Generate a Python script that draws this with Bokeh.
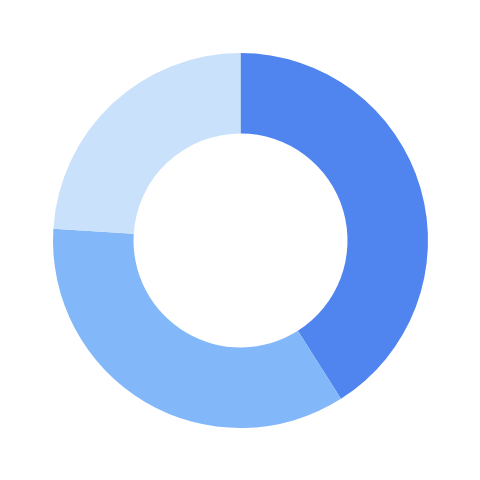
import math
from bokeh.plotting import figure
from bokeh.embed import file_html
from bokeh.resources import INLINE
from bokeh.models import ColumnDataSource, Range1d

categories = ["A", "B", "C"]
values = [41, 35, 24]
colors = ["#5085f0", "#82b7f9", "#cae1fb"]

total = sum(values)
starts, ends = [], []
acc = 0.0
for v in values:
    a0 = math.pi / 2 - 2 * math.pi * acc / total
    acc += v
    a1 = math.pi / 2 - 2 * math.pi * acc / total
    starts.append(a0)
    ends.append(a1)

src = ColumnDataSource(dict(cat=categories, val=values, color=colors, start=starts, end=ends))

p = figure(width=464, height=464, output_backend="svg", toolbar_location=None,
           x_range=Range1d(-240, 224), y_range=Range1d(-224, 240), min_border=0)
p.annular_wedge(x=0, y=0, inner_radius=107, outer_radius=187.5,
                start_angle="start", end_angle="end", direction="clock",
                fill_color="color", line_color=None, source=src)
p.axis.visible = False
p.grid.visible = False
p.outline_line_color = None
p.background_fill_color = "white"
p.border_fill_color = "white"

open("out.html", "w").write(file_html(p, INLINE))
